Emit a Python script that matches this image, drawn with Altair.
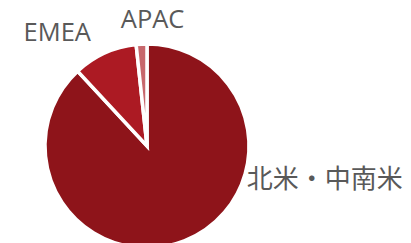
import altair as alt
import pandas as pd

regions = ["北米・中南米", "EMEA", "APAC"]
shares = [88.1, 10.2, 1.7]
colors = ["#8E141A", "#AC1A23", "#C7676C"]

df = pd.DataFrame({"region": regions, "share": shares, "order": [0, 1, 2]})

color_scale = alt.Scale(domain=regions, range=colors)
theta_scale = alt.Scale(domain=[0, 100])

pie = alt.Chart(df).mark_arc(outerRadius=102, stroke="white", strokeWidth=3.5).encode(
    theta=alt.Theta("share:Q", stack=True, scale=theta_scale),
    order=alt.Order("order:Q"),
    color=alt.Color("region:N", scale=color_scale, legend=None),
)

text_base = alt.Chart(df).transform_window(
    cum="sum(share)", sort=[alt.SortField("order")]
).transform_calculate(mid="datum.cum - datum.share / 2")


def label(name, dx, dy, size, font, align="center"):
    return text_base.transform_filter(alt.datum.region == name).mark_text(
        radius=120, dx=dx, dy=dy, fontSize=size, font=font, color="#595959",
        align=align, baseline="middle"
    ).encode(
        theta=alt.Theta("mid:Q", stack=None, scale=theta_scale),
        text="region:N",
    )


lab_na = label("北米・中南米", 56, -78, 26, "Noto Sans CJK JP", "left")
lab_emea = label("EMEA", -40, -4, 25.5, "Open Sans")
lab_apac = label("APAC", 12, -6, 25.5, "Open Sans")

chart = alt.layer(pie, lab_na, lab_emea, lab_apac).properties(
    width=278, height=274, padding=0
).configure_view(stroke=None)

chart.save("out.html", embed_options={"renderer": "svg", "actions": False})
